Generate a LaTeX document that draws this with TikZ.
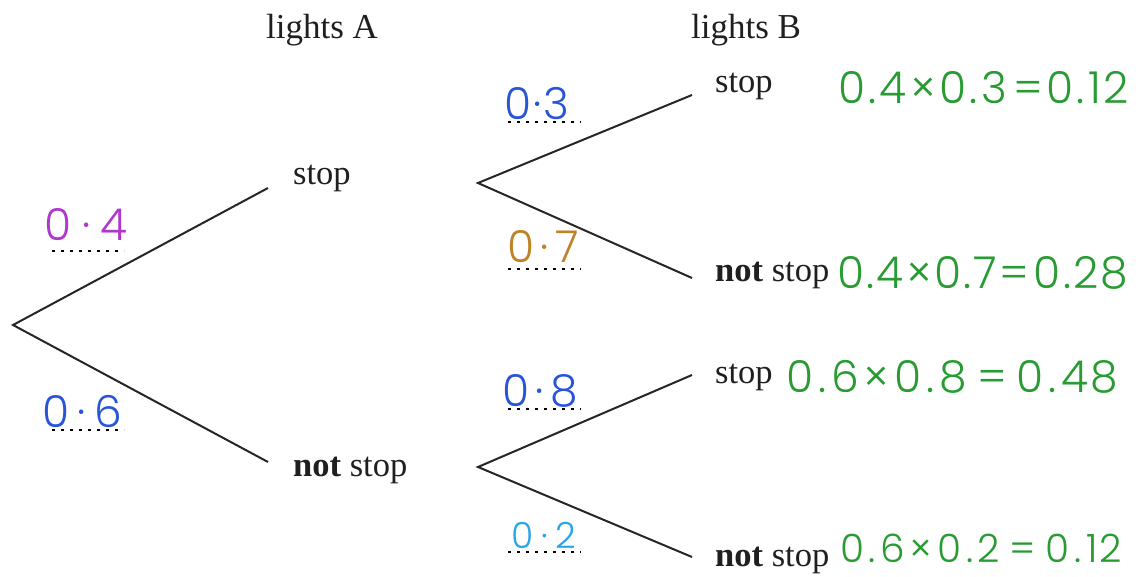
\documentclass[tikz,border=0pt]{standalone}
\usepackage{fontspec}
\setmainfont{Liberation Serif}
\newfontfamily\handfont{Poppins Light}
\definecolor{hmagenta}{RGB}{175,55,205}
\definecolor{hblue}{RGB}{40,85,215}
\definecolor{hbrown}{RGB}{190,130,40}
\definecolor{hlblue}{RGB}{40,165,235}
\definecolor{hgreen}{RGB}{40,155,50}
\begin{document}
\begin{tikzpicture}[x=1pt,y=-1pt,
  branch/.style={line width=2pt, draw=black!85},
  word/.style={inner sep=0pt, anchor=base west, text=black!88, font=\fontsize{34.5}{40}\selectfont},
  head/.style={inner sep=0pt, anchor=base, text=black!88, font=\fontsize{35}{40}\selectfont},
  prob/.style={inner sep=0pt, anchor=base, font=\handfont\fontsize{44}{46}\selectfont},
  calc/.style={inner sep=0pt, anchor=base west, text=hgreen, font=\handfont\fontsize{44}{46}\selectfont},
  dotline/.style={line width=2.5pt, dash pattern=on 2.5pt off 6.5pt, draw=black}]
\useasboundingbox (0,0) rectangle (1146,577);
\fill[white] (0,0) rectangle (1146,577);

% headings
\node[head] (hA) at (322,39) {lights A};
\node[head] (hB) at (746,39) {lights B};

% branch points
\coordinate (root) at (13,325);
\coordinate (a1) at (268,188);
\coordinate (a2) at (268,462);
\coordinate (b1) at (478,183);
\coordinate (b2) at (478,467);
\coordinate (c1) at (692,95);
\coordinate (c2) at (692,278);
\coordinate (c3) at (692,375);
\coordinate (c4) at (692,557);

% outcome words
\node[word] (sA) at (293,185) {stop};
\node[word] (nA) at (293,476) {\textbf{not} stop};
\node[word] (sB1) at (715,93) {stop};
\node[word] (nB1) at (715,282) {\textbf{not} stop};
\node[word] (sB2) at (715,383) {stop};
\node[word] (nB2) at (715,566) {\textbf{not} stop};

% branches
\draw[branch] (a1) -- (root) -- (a2);
\draw[branch] (c1) -- (b1) -- (c2);
\draw[branch] (c3) -- (b2) -- (c4);

% probabilities
\node[prob, text=hmagenta] (p04) at (86,241) {\hbox to 83pt{0\hfil·\hfil4}};
\node[prob, text=hblue] (p06) at (82,427) {\hbox to 80pt{0\hfil·\hfil6}};
\node[prob, text=hblue] (p03) at (537,120) {\hbox to 65pt{0\hfil·\hfil3}};
\node[prob, text=hbrown] (p07) at (543,263) {\hbox to 72pt{0\hfil·\hfil7}};
\node[prob, text=hblue] (p08) at (540,406) {\hbox to 75pt{0\hfil·\hfil8}};
\node[prob, text=hlblue, font=\handfont\fontsize{36}{38}\selectfont] (p02) at (544,548) {\hbox to 65pt{0\hfil·\hfil2}};

% dotted underlines
\draw[dotline] (52,251) -- (124,251);
\draw[dotline] (52,430) -- (124,430);
\draw[dotline] (508,122) -- (581,122);
\draw[dotline] (508,269) -- (581,269);
\draw[dotline] (508,409) -- (581,409);
\draw[dotline] (508,552) -- (581,552);

% products
\node[calc] (e1) at (838,104) {\hbox to 290pt{0\hfil.\hfil4\hfil×\hfil0\hfil.\hfil3\hfil\hfil=\hfil0\hfil.\hfil1\kern2pt2}};
\node[calc] (e2) at (837,289) {\hbox to 291pt{0\hfil.\hfil4\hfil×\hfil0\hfil.\hfil7\hfil=\hfil\hfil0\hfil.\hfil2\kern2pt8}};
\node[calc] (e3) at (786,392) {\hbox to 332pt{0\hfil.\hfil6\hfil×\hfil0\hfil.\hfil8\hfil\hfil=\hfil\hfil0\hfil.\hfil4\kern2pt8}};
\node[calc, font=\handfont\fontsize{39}{41}\selectfont] (e4) at (840,562) {\hbox to 282pt{0\hfil.\hfil6\kern4pt×\hfil0\hfil.\hfil2\hfil\hfil=\hfil\hfil0\hfil.\hfil1\kern2pt2}};
\end{tikzpicture}
\end{document}
